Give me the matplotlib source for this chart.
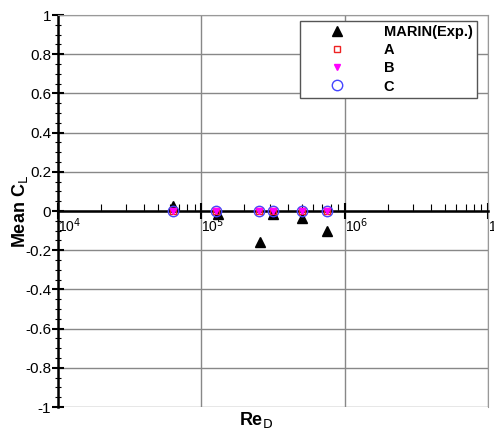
import matplotlib
matplotlib.use("Agg")
import matplotlib.pyplot as plt
import numpy as np

plt.rcParams['font.family'] = ['Liberation Sans', 'DejaVu Sans']

# data
re_exp = [6.3e4, 1.3e5, 2.55e5, 3.15e5, 5.05e5, 7.55e5]
cl_exp = [0.025, -0.015, -0.16, -0.015, -0.035, -0.10]

re_cfd = [6.3e4, 1.27e5, 2.52e5, 3.15e5, 5.05e5, 7.55e5]
cl_a = [0.002, 0.002, 0.001, 0.001, 0.001, 0.001]
cl_b = [0.001, 0.001, 0.0, 0.0, 0.0, 0.0]
cl_c = [0.001, 0.002, 0.001, 0.001, 0.001, 0.001]

yticks = [-1, -0.8, -0.6, -0.4, -0.2, 0, 0.2, 0.4, 0.6, 0.8, 1]
ytick_labels = ['-1', '-0.8', '-0.6', '-0.4', '-0.2', '0', '0.2', '0.4', '0.6', '0.8', '1']

fig = plt.figure(figsize=(4.94, 4.36), dpi=100)
ax = fig.add_axes([0.1174, 0.0665, 0.8705, 0.899])

ax.plot(re_exp, cl_exp, '^', color='black', ms=7, ls='none', label='MARIN(Exp.)', zorder=5)
ax.plot(re_cfd, cl_c, 'o', mfc='none', mec='#4444ff', mew=1.0, ms=7.5, ls='none', label='C', zorder=6)
ax.plot(re_cfd, cl_a, 's', mfc='none', mec='#ee2222', mew=1.0, ms=5, ls='none', label='A', zorder=7)
ax.plot(re_cfd, cl_b, 'v', color='#ff00ff', ms=4.5, ls='none', label='B', zorder=8)

ax.set_xscale('log')
ax.set_xlim(1e4, 1e7)
ax.set_ylim(-1, 1)
ax.set_yticks(yticks)
ax.set_yticklabels(ytick_labels, fontsize=11)
ax.set_yticks(np.arange(-1, 1.001, 0.05), minor=True)
ax.set_xticks([1e4, 1e5, 1e6, 1e7])
ax.set_xticklabels([r'10$^4$', r'10$^5$', r'10$^6$', r'10$^7$'], fontsize=11, color='#222222')

ax.grid(True, which='major', color='#888888', lw=1.0)
ax.set_axisbelow(True)

ax.spines['bottom'].set_position(('data', 0))
ax.spines['bottom'].set_linewidth(1.8)
ax.spines['left'].set_linewidth(1.8)
ax.spines['top'].set_color('#999999')
ax.spines['right'].set_color('#999999')

ax.tick_params(axis='y', which='major', direction='inout', length=8, width=1.5, pad=1)
ax.tick_params(axis='y', which='minor', direction='inout', length=4, width=0.8)
ax.tick_params(axis='x', which='major', direction='inout', length=12, width=1.5, pad=-2)
ax.tick_params(axis='x', which='minor', direction='in', length=5, width=0.8)
for lbl in ax.get_xticklabels():
    lbl.set_horizontalalignment('left')

ax.set_ylabel(r'Mean C$_\mathrm{L}$', fontsize=13, fontweight='bold')
ax.yaxis.set_label_coords(-0.066, 0.5)
ax.set_xlabel(r'Re$_\mathrm{D}$', fontsize=13, fontweight='bold')
ax.xaxis.set_label_coords(0.46, -0.008)

handles, labels = ax.get_legend_handles_labels()
order = [0, 2, 3, 1]
leg = ax.legend([handles[i] for i in order], [labels[i] for i in order],
                loc='upper right', bbox_to_anchor=(0.974, 0.985), borderaxespad=0,
                fancybox=False, edgecolor='#555555', framealpha=1,
                handletextpad=1.0, borderpad=0.3, labelspacing=0.28,
                handlelength=4.4, prop={'weight': 'bold', 'size': 10.5})
leg.get_frame().set_linewidth(1.0)

fig.savefig('out.png', dpi=100)
